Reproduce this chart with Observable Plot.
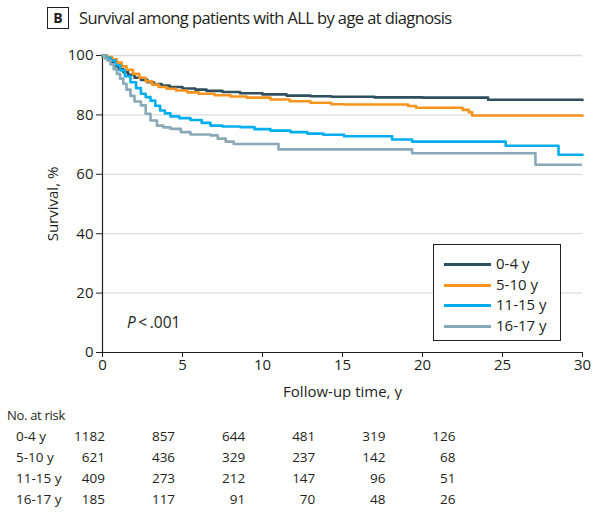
<!DOCTYPE html>
<html><head><meta charset="utf-8">
<script src="https://cdn.jsdelivr.net/npm/d3@7"></script>
<script src="https://cdn.jsdelivr.net/npm/@observablehq/plot@0.6"></script>
<style>
body{margin:0;background:#fff;}
#wrap{position:relative;width:592px;height:512px;overflow:hidden;font-family:"Open Sans","DejaVu Sans",sans-serif;color:#231f20;}
#wrap svg{position:absolute;left:0;top:0;}
.abs{position:absolute;white-space:nowrap;}
#badge{left:47px;top:7px;width:20px;height:20px;border:1.3px solid #231f20;font-weight:bold;font-size:14px;line-height:20px;text-align:center;}
#title{left:79px;top:6px;font-size:16.5px;letter-spacing:-0.6px;line-height:24px;}
#legend{left:433px;top:244px;width:126px;height:95px;border:1.2px solid #231f20;background:#fff;}
.item{position:absolute;left:10px;height:20px;font-size:15px;line-height:20px;}
.sw{display:inline-block;width:47px;height:3px;vertical-align:middle;margin-right:5px;}
#pval{left:127px;top:311px;font-size:15.5px;}
.cell{position:absolute;font-size:13.5px;line-height:18px;}
</style></head><body><div id="wrap"></div>
<script>
// ---- data ----
const groups = ["0-4 y", "5-10 y", "11-15 y", "16-17 y"];
const colors = ["#2e4f5d", "#f7941d", "#00aeef", "#8aa9b8"];

const t04 = [0, 0.2, 0.4, 0.6, 0.8, 1.0, 1.3, 1.6, 2.0, 2.4, 2.8, 3.2, 3.7, 4.2, 5.0, 5.8, 6.5, 7.5, 8.6, 10, 11.5, 13, 14.3, 17, 20, 24.1, 30];
const s04 = [100, 99.3, 98.5, 97.4, 96.4, 95.4, 94.4, 93.5, 92.5, 91.8, 91.0, 90.4, 89.9, 89.4, 88.9, 88.5, 88.1, 87.7, 87.3, 86.9, 86.5, 86.3, 86.1, 85.9, 85.8, 85.1, 85.0];

const t510 = [0, 0.3, 0.6, 0.9, 1.2, 1.5, 1.9, 2.3, 2.7, 3.1, 3.5, 4.0, 4.6, 5.3, 6.0, 7.0, 8.0, 9.0, 10.5, 11.7, 13, 14.3, 15.1, 19.1, 19.6, 22.5, 22.9, 23.1, 30];
const s510 = [100, 99.5, 98.7, 97.6, 96.4, 95.2, 93.8, 92.5, 91.3, 90.2, 89.4, 88.8, 88.2, 87.6, 87.1, 86.6, 86.2, 85.8, 85.2, 84.6, 84.1, 83.6, 83.5, 83.0, 82.4, 81.7, 80.9, 79.8, 79.7];

const t1115 = [0, 0.2, 0.5, 0.8, 1.1, 1.4, 1.75, 2.1, 2.4, 2.7, 3.0, 3.3, 3.6, 3.9, 4.25, 4.8, 5.5, 6.2, 6.75, 7.5, 8.6, 9.5, 10.5, 11.75, 12.8, 13.8, 15.1, 18.1, 19.35, 25.2, 28.5, 30];
const s1115 = [100, 99.2, 98.3, 96.7, 95.0, 93.0, 91.0, 89.0, 87.1, 86.0, 84.8, 83.1, 81.5, 80.5, 79.5, 78.9, 78.3, 77.3, 76.4, 76.1, 75.9, 75.2, 74.7, 74.2, 73.7, 73.3, 72.8, 71.7, 71.0, 69.6, 66.6, 66.6];

const t1617 = [0, 0.15, 0.3, 0.5, 0.7, 0.9, 1.1, 1.3, 1.5, 1.75, 2.0, 2.4, 2.7, 3.0, 3.4, 3.8, 4.25, 4.9, 5.5, 6.75, 7.2, 7.7, 8.2, 11.0, 19.35, 27.06, 29.9];
const s1617 = [100, 99.0, 98.3, 97.0, 95.4, 93.8, 92.2, 90.5, 88.5, 86.4, 84.5, 83.2, 80.4, 78.1, 76.4, 75.8, 75.3, 74.2, 73.4, 73.1, 72.0, 71.0, 70.2, 68.4, 67.1, 63.2, 63.2];

const xTicks = [0, 5, 10, 15, 20, 25, 30];
const yTicks = [0, 20, 40, 60, 80, 100];

const riskTimes = [0, 5, 10, 15, 20, 25];
const risk04 = [1182, 857, 644, 481, 319, 126];
const risk510 = [621, 436, 329, 237, 142, 68];
const risk1115 = [409, 273, 212, 147, 96, 51];
const risk1617 = [185, 117, 91, 70, 48, 26];

// ---- build ----
const times = [t04, t510, t1115, t1617];
const surv = [s04, s510, s1115, s1617];
const risks = [risk04, risk510, risk1115, risk1617];
const rows = [];
groups.forEach((g, i) => times[i].forEach((t, j) => rows.push({group: g, t, s: surv[i][j]})));

const font = '"Open Sans","DejaVu Sans",sans-serif';
const chart = Plot.plot({
  width: 592, height: 400,
  marginLeft: 102, marginRight: 10, marginTop: 55, marginBottom: 48,
  style: {fontFamily: font, fontSize: "15px", color: "#231f20", background: "transparent"},
  x: {domain: [0, 30]},
  y: {domain: [0, 100]},
  color: {domain: groups, range: colors},
  marks: [
    Plot.ruleY(yTicks.filter(d => d > 0), {stroke: "#dcdcdc", strokeWidth: 1.3}),
    Plot.axisX({ticks: xTicks, tickSize: 5, tickPadding: 2, stroke: "#231f20", strokeOpacity: 1, label: "Follow-up time, y", labelAnchor: "center", labelArrow: "none", labelOffset: 44, fontSize: 15}),
    Plot.axisY({ticks: yTicks, tickSize: 6, tickPadding: 3, stroke: "#231f20", strokeOpacity: 1, label: "Survival, %", labelAnchor: "center", labelArrow: "none", labelOffset: 55, fontSize: 15}),
    Plot.ruleX([0], {stroke: "#231f20", strokeWidth: 1.2}),
    Plot.ruleY([0], {stroke: "#231f20", strokeWidth: 1.2}),
    Plot.line(rows, {x: "t", y: "s", z: "group", stroke: "group", strokeWidth: 2.6, curve: "step-after"})
  ]
});

const wrap = document.getElementById("wrap");
wrap.appendChild(chart);

function add(html, cls, id) {
  const d = document.createElement("div");
  d.className = cls; if (id) d.id = id; d.innerHTML = html;
  wrap.appendChild(d); return d;
}
add("B", "abs", "badge");
add("Survival among patients with ALL by age at diagnosis", "abs", "title");
add("<i>P</i>&thinsp;&lt;&thinsp;.001", "abs", "pval");

const leg = add("", "abs", "legend");
groups.forEach((g, i) => {
  const it = document.createElement("div");
  it.className = "item";
  it.style.top = (8 + i * 20.5) + "px";
  it.innerHTML = `<span class="sw" style="background:${colors[i]}"></span>${g}`;
  leg.appendChild(it);
});

// risk table
add("No. at risk", "cell", null).style.cssText = "left:7px;top:406px;font-size:13px;letter-spacing:-0.3px;";
groups.forEach((g, i) => {
  const top = 427 + i * 21;
  const lab = add(g, "cell");
  lab.style.left = "16px"; lab.style.top = top + "px";
  riskTimes.forEach((t, j) => {
    const c = add(String(risks[i][j]), "cell");
    c.style.left = (105 + j * 70.1 - 60) + "px";
    c.style.width = "60px"; c.style.textAlign = "right";
    c.style.top = top + "px";
  });
});
</script></body></html>
